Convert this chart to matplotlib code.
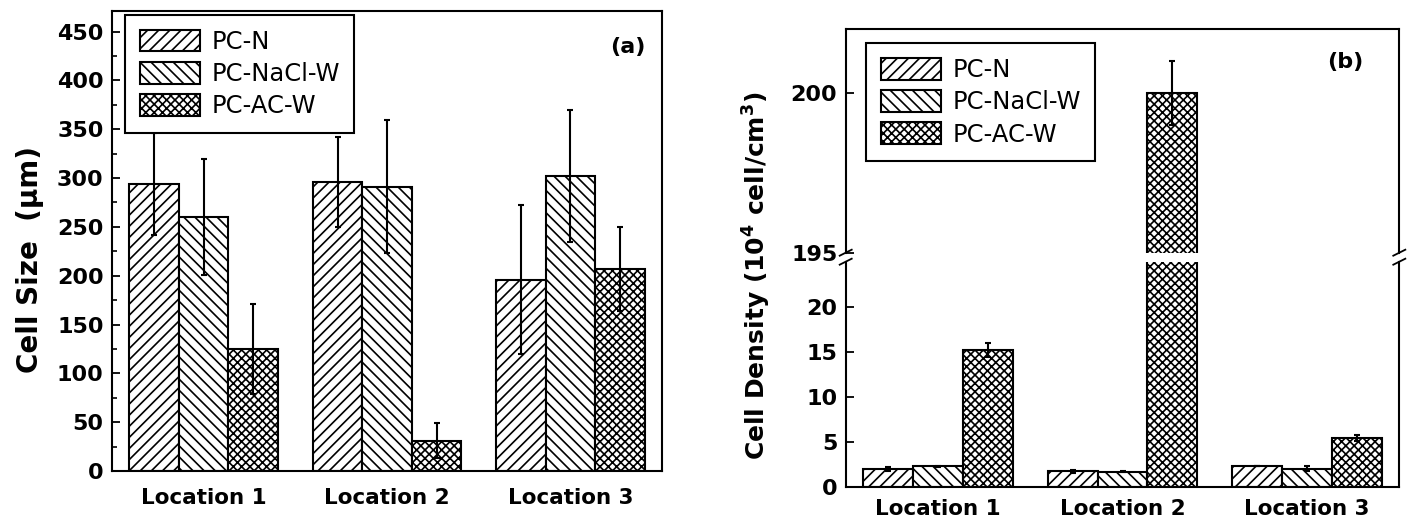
import matplotlib.pyplot as plt
import numpy as np
from matplotlib.lines import Line2D
from matplotlib.ticker import MultipleLocator

plt.rcParams["font.family"] = ["DejaVu Sans"]
plt.rcParams["hatch.linewidth"] = 1.2

locations = ["Location 1", "Location 2", "Location 3"]
series = ["PC-N", "PC-NaCl-W", "PC-AC-W"]
hatches = ["///", "\\\\\\", "xxxx"]

# (a) cell size, um
size_vals = [
    [294, 296, 196],   # PC-N
    [260, 291, 302],   # PC-NaCl-W
    [125, 31, 207],    # PC-AC-W
]
size_err = [
    [52, 46, 76],
    [59, 68, 68],
    [46, 18, 43],
]

# (b) cell density, 10^4 cell/cm^3
dens_vals = [
    [1.95, 1.7, 2.3],
    [2.25, 1.65, 2.0],
    [15.2, 200.0, 5.4],
]
dens_err = [
    [0.25, 0.2, 0.05],
    [0.05, 0.05, 0.25],
    [0.8, 1.0, 0.3],
]

W, H = 1407, 518
fig = plt.figure(figsize=(W / 100, H / 100), dpi=100)


def px_box(left, top, right, bottom):
    return [left / W, 1 - bottom / H, (right - left) / W, (bottom - top) / H]


x = np.arange(len(locations))
bw = 0.27
bar_style = dict(color="white", edgecolor="black", linewidth=1.5)
err_style = dict(ecolor="black", elinewidth=1.5, capsize=2.5, capthick=1.5)


def style_axes(ax):
    for sp in ax.spines.values():
        sp.set_linewidth(1.5)
    ax.tick_params(axis="y", direction="in", length=6, width=1.3, pad=6,
                   labelsize=16)
    ax.tick_params(axis="y", which="minor", direction="in", length=3.5, width=1.2)
    ax.tick_params(axis="x", length=0)
    for lab in ax.get_yticklabels():
        lab.set_fontweight("bold")
    ax.set_xlim(-0.5, 2.5)


def draw_bars(ax, vals, errs):
    handles = []
    for i in range(3):
        h = ax.bar(x + (i - 1) * bw, vals[i], bw, hatch=hatches[i],
                   yerr=errs[i], error_kw=err_style, label=series[i],
                   **bar_style)
        handles.append(h)
    return handles


legend_style = dict(fontsize=17.5, handlelength=2.5, handleheight=1.0,
                    handletextpad=0.45, labelspacing=0.33, borderpad=0.6,
                    fancybox=False, edgecolor="black", framealpha=1,
                    borderaxespad=0)

# ---- panel (a)
ax1 = fig.add_axes(px_box(112, 11, 662, 471))
handles = draw_bars(ax1, size_vals, size_err)
ax1.set_ylim(0, 471)
ax1.yaxis.set_major_locator(MultipleLocator(50))
ax1.yaxis.set_minor_locator(MultipleLocator(25))
ax1.set_xticks(x)
ax1.set_xticklabels(locations, fontsize=15.5, fontweight="bold")
ax1.tick_params(axis="x", pad=12)
style_axes(ax1)
ax1.set_ylabel("Cell Size  (μm)", fontsize=20, fontweight="bold")
ax1.yaxis.set_label_coords(-0.124, 0.46)
leg = ax1.legend(handles=handles, loc="upper left",
                 bbox_to_anchor=(13 / 550, 456 / 460), **legend_style)
leg.get_frame().set_linewidth(1.5)
fig.text(628 / W, 1 - 47 / H, "(a)", fontsize=16, fontweight="bold",
         ha="center", va="center")

# ---- panel (b), broken y axis
left_b, right_b = 845.7, 1399.3
ax_lo = fig.add_axes(px_box(left_b, 261.7, right_b, 486.7))
ax_hi = fig.add_axes(px_box(left_b, 29.3, right_b, 252.7))

draw_bars(ax_lo, dens_vals, dens_err)
hb = draw_bars(ax_hi, dens_vals, dens_err)

ax_lo.set_ylim(0, 25)
ax_lo.set_yticks([0, 5, 10, 15, 20])
ax_lo.set_xticks(x)
ax_lo.set_xticklabels(locations, fontsize=15.5, fontweight="bold")
ax_lo.tick_params(axis="x", pad=9)
ax_lo.spines["top"].set_visible(False)
style_axes(ax_lo)

ax_hi.set_ylim(195, 202)
ax_hi.set_yticks([195, 200])
ax_hi.set_xticks([])
ax_hi.spines["bottom"].set_visible(False)
style_axes(ax_hi)

# break marks on both spines
for xs in (left_b, right_b):
    for yb in (252.7, 261.7):
        fig.add_artist(Line2D([(xs - 6) / W, (xs + 6) / W],
                              [1 - (yb + 3) / H, 1 - (yb - 3) / H],
                              transform=fig.transFigure, color="black", lw=1.3))

fig.text(757 / W, 1 - 276 / H, "Cell Density (10$^{\\mathbf{4}}$ cell/cm$^{\\mathbf{3}}$)",
         rotation=90, fontsize=18, fontweight="bold", ha="center", va="center")

leg2 = fig.legend(handles=hb, loc="upper left",
                  bbox_to_anchor=(866 / W, 1 - 43.3 / H),
                  bbox_transform=fig.transFigure, **legend_style)
leg2.get_frame().set_linewidth(1.5)
fig.text(1345 / W, 1 - 62 / H, "(b)", fontsize=16, fontweight="bold",
         ha="center", va="center")

fig.savefig("out.png", dpi=100)
